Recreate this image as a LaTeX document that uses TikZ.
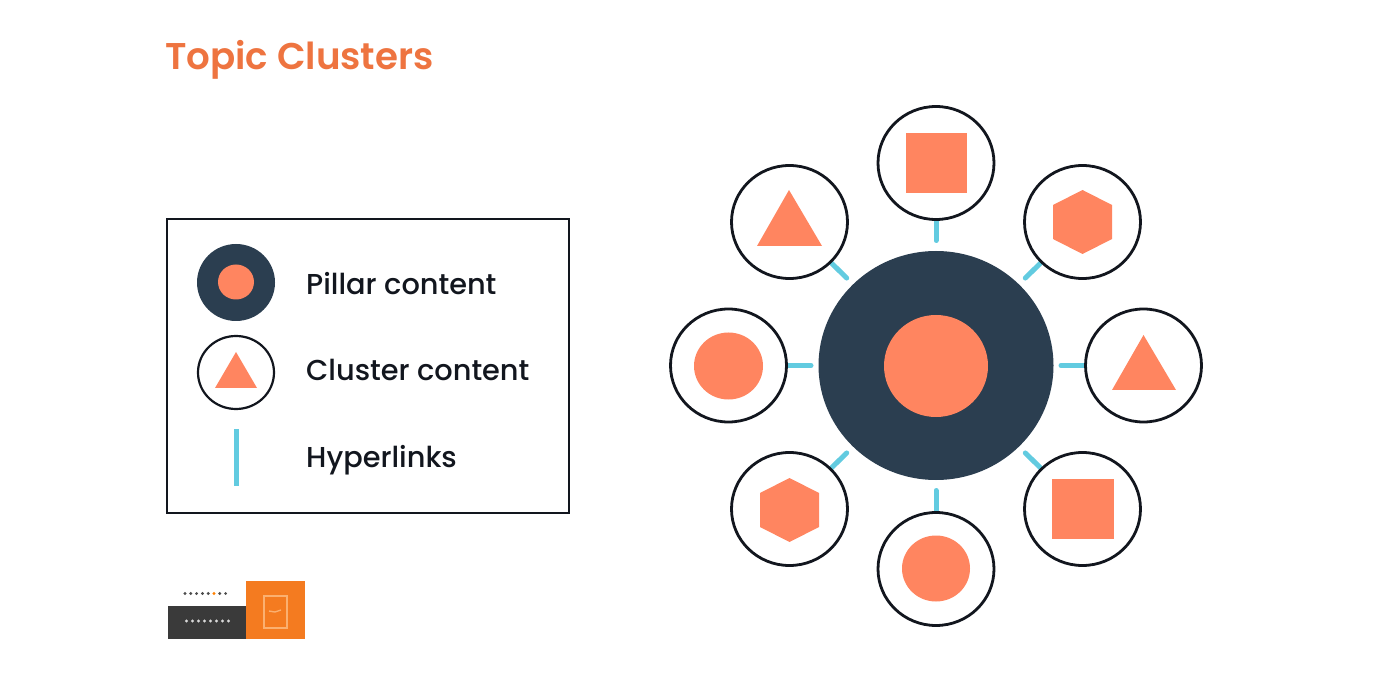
\documentclass[tikz,border=0pt]{standalone}
\usepackage{fontspec}
\setmainfont{Poppins Medium}[BoldFont={Poppins SemiBold}]
\usetikzlibrary{calc,shapes.geometric}
\definecolor{coral}{HTML}{FF8560}
\definecolor{navy}{HTML}{2B3E50}
\definecolor{linkblue}{HTML}{62CBE0}
\definecolor{ink}{HTML}{12161E}
\definecolor{titleor}{HTML}{EE7440}
\definecolor{logoor}{HTML}{F47B20}
\definecolor{logolight}{HTML}{FBB070}
\definecolor{logodark}{HTML}{3A3A3A}
\tikzset{
  px/.style={x=1pt,y=-1pt},
  oval/.style={ellipse,inner sep=0pt,outer sep=0pt},
  disc/.style={oval,fill=white,draw=ink,line width=2.8pt,minimum width=116pt,minimum height=113pt},
  smalldisc/.style={oval,fill=white,draw=ink,line width=2.2pt,minimum width=76pt,minimum height=73pt},
  pillar/.style={oval,fill=navy,minimum width=235pt,minimum height=229pt},
  minipillar/.style={oval,fill=navy,minimum width=78pt,minimum height=77pt},
  dotc/.style={oval,fill=coral},
  link/.style={draw=linkblue,line width=5pt,line cap=round},
  legendtext/.style={anchor=base west,font=\fontsize{28.8}{30}\selectfont,text=ink,inner sep=0pt},
  shapefill/.style={fill=coral,draw=none}
}
\begin{document}
\begin{tikzpicture}[px]
\useasboundingbox (0,0) rectangle (1400,700);
\fill[white] (0,0) rectangle (1400,700);

\node[anchor=base west,inner sep=0pt,text=titleor,font=\fontsize{37.2}{40}\selectfont\bfseries] (title) at (165,70) {Topic Clusters};

% legend
\node[draw=ink,line width=2.7pt,minimum width=402pt,minimum height=294pt,inner sep=0pt,outer sep=0pt] (legend) at (368,366) {};
\node[minipillar] (lp) at (236,282.5) {};
\node[dotc,minimum width=36pt,minimum height=35pt] (lpd) at (236,282) {};
\node[smalldisc] (lc) at (236,372.5) {};
\fill[shapefill] (236,352) -- (257,388) -- (215,388) -- cycle;
\coordinate (lh1) at (236,429);
\coordinate (lh2) at (236,486);
\draw[link,line cap=butt] (lh1) -- (lh2);
\node[legendtext] (t1) at (306,295) {Pillar content};
\node[legendtext] (t2) at (306,381) {Cluster content};
\node[legendtext] (t3) at (306,467) {Hyperlinks};

% hub
\node[pillar] (hub) at (936,365.5) {};
\node[dotc,minimum width=104pt,minimum height=102pt] (hubd) at (936,366) {};

% clusters and links
\foreach \n/\x/\y in {a/936/163,b/1082.5/222,c/1143.5/365.5,d/1082.5/509,e/936/569,f/789.5/509,g/728.5/365.5,h/789.5/222}{
  \coordinate (\n c) at (\x,\y);
  \draw[link] ($(hub)!125pt!(\n c)$) -- (\n c);
  \node[disc] (\n) at (\n c) {};
}
% a: square
\fill[shapefill] (906,133) rectangle (967,193);
% b: hexagon
\fill[shapefill] (1082.5,190) -- (1112,205) -- (1112,239) -- (1082.5,254) -- (1053,239) -- (1053,205) -- cycle;
% c: triangle
\fill[shapefill] (1143.5,335) -- (1176,390) -- (1112,390) -- cycle;
% d: square
\fill[shapefill] (1052,479) rectangle (1114,539);
% e: circle
\node[dotc,minimum width=68pt,minimum height=66pt] (ed) at (936,568.5) {};
% f: hexagon
\fill[shapefill] (789.5,478) -- (819,493) -- (819,527) -- (789.5,542) -- (760,527) -- (760,493) -- cycle;
% g: circle
\node[dotc,minimum width=69pt,minimum height=67pt] (gd) at (728.5,366) {};
% h: triangle
\fill[shapefill] (789,190) -- (822,246) -- (757,246) -- cycle;

% logo
\fill[logodark] (168,606) rectangle (246,639);
\fill[logoor] (246,581) rectangle (305,639);
\draw[logolight,line width=1.4pt] (264,596) rectangle (287,628);
\draw[logolight,line width=1.4pt] (269,611) -- (275,612) -- (281,610);
\foreach \i in {0,...,7}{\fill[white!85!black] (186.5+\i*6,621) circle (1.7pt);}
\foreach \i/\c in {0/black!70,1/black!70,2/black!70,3/black!70,4/black!70,5/orange,6/black!70,7/black!70}{\fill[\c] (185+\i*5.8,593.5) circle (1.6pt);}
\end{tikzpicture}
\end{document}
